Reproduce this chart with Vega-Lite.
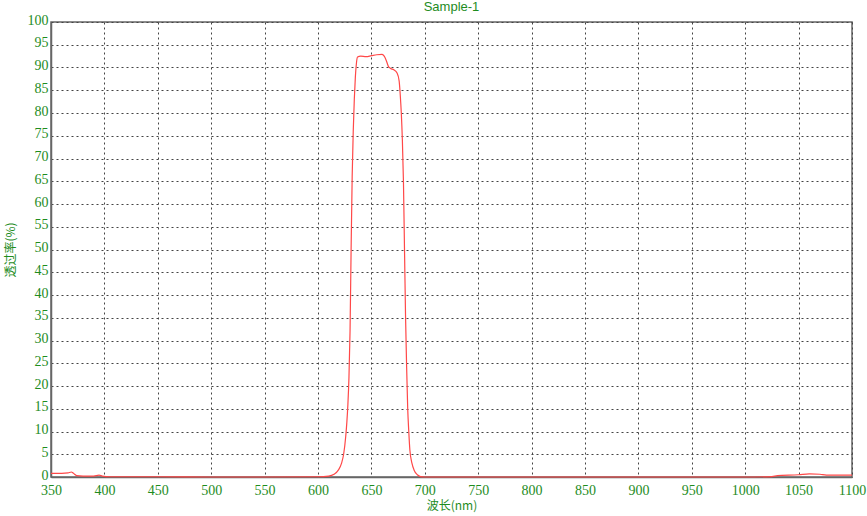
{
  "$schema": "https://vega.github.io/schema/vega-lite/v6.json",
  "width": 801,
  "height": 455,
  "autosize": {"type": "none"},
  "padding": {"left": 51, "top": 22, "right": 15, "bottom": 39},
  "background": "white",
  "config": {
    "view": {"stroke": "#666666", "strokeWidth": 1.5},
    "font": "Liberation Serif"
  },
  "title": {"text": "Sample-1", "font": "Liberation Sans", "fontSize": 13, "fontWeight": "normal", "color": "#1e8c1e", "offset": -1, "anchor": "middle"},
  "data": {"values": [
    {"w": 350, "t": 0.8}, {"w": 360, "t": 0.8}, {"w": 366, "t": 0.9}, {"w": 369, "t": 1.1}, {"w": 371, "t": 0.8},
    {"w": 374, "t": 0.3}, {"w": 380, "t": 0.2}, {"w": 390, "t": 0.2}, {"w": 395, "t": 0.4}, {"w": 398, "t": 0.2},
    {"w": 405, "t": 0.05}, {"w": 450, "t": 0.05}, {"w": 500, "t": 0.0}, {"w": 550, "t": 0.0}, {"w": 600, "t": 0.05},
    {"w": 610, "t": 0.2}, {"w": 615, "t": 0.6}, {"w": 619, "t": 1.5}, {"w": 622, "t": 3}, {"w": 624, "t": 5},
    {"w": 626, "t": 9}, {"w": 627, "t": 12}, {"w": 628, "t": 16}, {"w": 629, "t": 22}, {"w": 630, "t": 32},
    {"w": 631, "t": 50}, {"w": 632, "t": 66}, {"w": 633, "t": 76}, {"w": 634, "t": 83}, {"w": 635, "t": 88},
    {"w": 636, "t": 91}, {"w": 637, "t": 92.3}, {"w": 640, "t": 92.5}, {"w": 645, "t": 92.4}, {"w": 650, "t": 92.6},
    {"w": 655, "t": 92.8}, {"w": 660, "t": 92.9}, {"w": 662, "t": 92.5}, {"w": 664, "t": 91.5}, {"w": 666, "t": 90.2},
    {"w": 668, "t": 89.8}, {"w": 671, "t": 89.5}, {"w": 674, "t": 88.8}, {"w": 676, "t": 87}, {"w": 677, "t": 84},
    {"w": 678, "t": 80}, {"w": 679, "t": 74}, {"w": 680, "t": 65}, {"w": 681, "t": 50}, {"w": 682, "t": 35},
    {"w": 683, "t": 24}, {"w": 684, "t": 15}, {"w": 685, "t": 10}, {"w": 686, "t": 6}, {"w": 688, "t": 3},
    {"w": 690, "t": 1.5}, {"w": 693, "t": 0.5}, {"w": 696, "t": 0.1}, {"w": 700, "t": 0.0}, {"w": 800, "t": 0.0},
    {"w": 900, "t": 0.0}, {"w": 1000, "t": 0.0}, {"w": 1025, "t": 0.1}, {"w": 1030, "t": 0.3}, {"w": 1050, "t": 0.5},
    {"w": 1060, "t": 0.7}, {"w": 1070, "t": 0.6}, {"w": 1076, "t": 0.4}, {"w": 1100, "t": 0.4}
  ]},
  "mark": {"type": "line", "color": "#ff4848", "strokeWidth": 1.2, "interpolate": "monotone"},
  "encoding": {
    "x": {
      "field": "w", "type": "quantitative",
      "scale": {"domain": [350, 1100], "nice": false, "zero": false},
      "axis": {
        "values": [350, 400, 450, 500, 550, 600, 650, 700, 750, 800, 850, 900, 950, 1000, 1050, 1100],
        "format": "d",
        "title": "波长(nm)", "titleFont": "Noto Sans CJK SC", "titleFontSize": 12, "titleFontWeight": "normal", "titleColor": "#1e8c1e", "titlePadding": 3,
        "labelFont": "Liberation Serif", "labelFontSize": 14, "labelColor": "#1e8c1e", "labelPadding": 6,
        "ticks": false, "domainColor": "#666666", "domainWidth": 1.5,
        "grid": true, "gridColor": "#444444", "gridDash": [2, 3], "gridWidth": 1,
        "labelFlush": false
      }
    },
    "y": {
      "field": "t", "type": "quantitative",
      "scale": {"domain": [0, 100], "nice": false},
      "axis": {
        "values": [0, 5, 10, 15, 20, 25, 30, 35, 40, 45, 50, 55, 60, 65, 70, 75, 80, 85, 90, 95, 100],
        "title": "透过率(%)", "titleFont": "Noto Sans CJK SC", "titleFontSize": 12, "titleFontWeight": "normal", "titleColor": "#1e8c1e", "titlePadding": 10,
        "labelFont": "Liberation Serif", "labelFontSize": 14, "labelColor": "#1e8c1e", "labelPadding": 3, "labelOffset": -2,
        "ticks": false, "domainColor": "#666666", "domainWidth": 1.5,
        "grid": true, "gridColor": "#444444", "gridDash": [2, 3], "gridWidth": 1,
        "labelFlush": false
      }
    }
  }
}
